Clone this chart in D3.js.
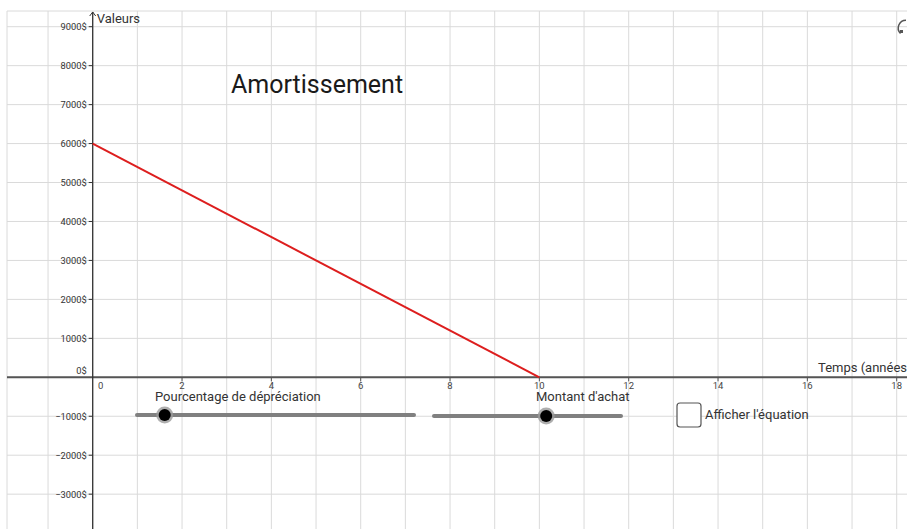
<!DOCTYPE html>
<html>
<head>
<meta charset="utf-8">
<script src="https://cdn.jsdelivr.net/npm/d3@7"></script>
<style>
  body { margin: 0; background: #fff; }
  svg { display: block; font-family: Roboto, "Noto Sans", sans-serif; }
</style>
</head>
<body>
<svg id="chart" width="907" height="529"></svg>
<script>
// data
const years = [0, 10];
const values = [6000, 0];
const yearTicks = [0, 2, 4, 6, 8, 10, 12, 14, 16, 18];
const valueTicks = [-3000, -2000, -1000, 0, 1000, 2000, 3000, 4000, 5000, 6000, 7000, 8000, 9000];
const sliderNames = ['Pourcentage de dépréciation', "Montant d'achat"];
const sliderMax = [100, 10000];
const sliderValues = [10, 6000];

const W = 907, H = 529;
const frameLeft = 7, frameTop = 11;
const svg = d3.select('#chart');

let x = d3.scaleLinear().domain([0, 18]).range([92.7, 896.7]);
let y = d3.scaleLinear().domain([0, 9000]).range([377.3, 26.7]);

// grid
let gridX = d3.range(-1, 21);
let gridY = d3.range(-4000, 10000, 1000);
let grid = svg.append('g').attr('stroke', '#dadada').attr('stroke-width', 1);
grid.selectAll('.gx')
    .data(gridX.filter(d => x(d) > frameLeft && x(d) < W))
    .join('line')
    .attr('class', 'gx')
    .attr('x1', d => x(d)).attr('x2', d => x(d))
    .attr('y1', frameTop).attr('y2', H);
grid.selectAll('.gy')
    .data(gridY.filter(d => y(d) > frameTop && y(d) < H))
    .join('line')
    .attr('class', 'gy')
    .attr('x1', frameLeft).attr('x2', W)
    .attr('y1', d => y(d)).attr('y2', d => y(d));
// frame of the view
grid.append('line').attr('x1', frameLeft).attr('x2', W).attr('y1', frameTop).attr('y2', frameTop);
grid.append('line').attr('x1', frameLeft).attr('x2', frameLeft).attr('y1', frameTop).attr('y2', H);

// axes
svg.append('line')
    .attr('x1', frameLeft).attr('x2', W)
    .attr('y1', y(0)).attr('y2', y(0))
    .attr('stroke', '#555').attr('stroke-width', 2);
svg.append('line')
    .attr('x1', x(0)).attr('x2', x(0))
    .attr('y1', frameTop + 1).attr('y2', H)
    .attr('stroke', '#333').attr('stroke-width', 1.3);
svg.append('path')
    .attr('d', `M${x(0) - 3},${frameTop + 5} L${x(0)},${frameTop + 1} L${x(0) + 3},${frameTop + 5}`)
    .attr('fill', 'none').attr('stroke', '#333').attr('stroke-width', 1);

// y ticks
let yt = svg.append('g');
yt.selectAll('line')
    .data(valueTicks.filter(d => d !== 0))
    .join('line')
    .attr('x1', x(0) - 4).attr('x2', x(0))
    .attr('y1', d => y(d)).attr('y2', d => y(d))
    .attr('stroke', '#333');
yt.selectAll('text')
    .data(valueTicks)
    .join('text')
    .attr('x', x(0) - 6)
    .attr('y', d => d === 0 ? y(d) - 3 : y(d) + 3.5)
    .attr('text-anchor', 'end')
    .attr('font-size', 9.3)
    .attr('fill', '#333')
    .text(d => (d < 0 ? '\u2212' + (-d) : d) + '$');

// x ticks
let xt = svg.append('g');
xt.selectAll('line')
    .data(yearTicks.filter(d => d > 0))
    .join('line')
    .attr('x1', d => x(d)).attr('x2', d => x(d))
    .attr('y1', y(0)).attr('y2', y(0) + 4)
    .attr('stroke', '#555');
xt.selectAll('text')
    .data(yearTicks)
    .join('text')
    .attr('x', d => d === 0 ? x(d) + 8 : x(d))
    .attr('y', y(0) + 12)
    .attr('text-anchor', 'middle')
    .attr('font-size', 9.5)
    .attr('fill', '#444')
    .text(d => d);

// axis labels
svg.append('text').attr('x', x(0) + 4).attr('y', frameTop + 12)
    .attr('font-size', 13).attr('fill', '#333').text('Valeurs');
svg.append('text').attr('x', 818).attr('y', y(0) - 5)
    .attr('font-size', 13).attr('fill', '#333').text('Temps (années)');

// title
svg.append('text').attr('x', 231).attr('y', 93)
    .attr('font-size', 25).attr('fill', '#1a1a1a').text('Amortissement');

// depreciation line
let pts = years.map((d, i) => [d, values[i]]);
svg.append('path')
    .datum(pts)
    .attr('d', d3.line().x(d => x(d[0])).y(d => y(d[1])))
    .attr('fill', 'none')
    .attr('stroke', '#dd1e1e')
    .attr('stroke-width', 2);

// sliders
let sliderRanges = [[137, 414], [434, 621]];
let sliderY = [415, 416];
let sliderLabelX = [155, 536];
sliderNames.forEach((name, i) => {
    let s = d3.scaleLinear().domain([0, sliderMax[i]]).range(sliderRanges[i]);
    let g = svg.append('g');
    g.append('line')
        .attr('x1', s(0)).attr('x2', s(sliderMax[i]))
        .attr('y1', sliderY[i]).attr('y2', sliderY[i])
        .attr('stroke', '#808080').attr('stroke-width', 4).attr('stroke-linecap', 'round');
    g.append('circle')
        .attr('cx', s(sliderValues[i])).attr('cy', sliderY[i]).attr('r', 8.5)
        .attr('fill', '#9a9a9a').attr('opacity', 0.8);
    g.append('circle')
        .attr('cx', s(sliderValues[i])).attr('cy', sliderY[i]).attr('r', 6)
        .attr('fill', '#000');
    g.append('text')
        .attr('x', sliderLabelX[i]).attr('y', 401)
        .attr('font-size', 13).attr('fill', '#333')
        .text(name);
});

// checkbox
svg.append('rect')
    .attr('x', 677).attr('y', 403).attr('width', 24).attr('height', 24)
    .attr('rx', 3).attr('fill', '#fff').attr('stroke', '#555').attr('stroke-width', 1.2);
svg.append('text').attr('x', 705).attr('y', 419)
    .attr('font-size', 13).attr('fill', '#333').text("Afficher l'équation");

// reset icon, cut at the right edge
svg.append('path')
    .attr('d', d3.arc()({innerRadius: 7, outerRadius: 8.5, startAngle: -Math.PI * 0.75, endAngle: 0}))
    .attr('transform', 'translate(906, 28)')
    .attr('fill', '#555');
svg.append('rect')
    .attr('x', 900).attr('y', 30).attr('width', 3).attr('height', 3)
    .attr('fill', '#555');
</script>
</body>
</html>
